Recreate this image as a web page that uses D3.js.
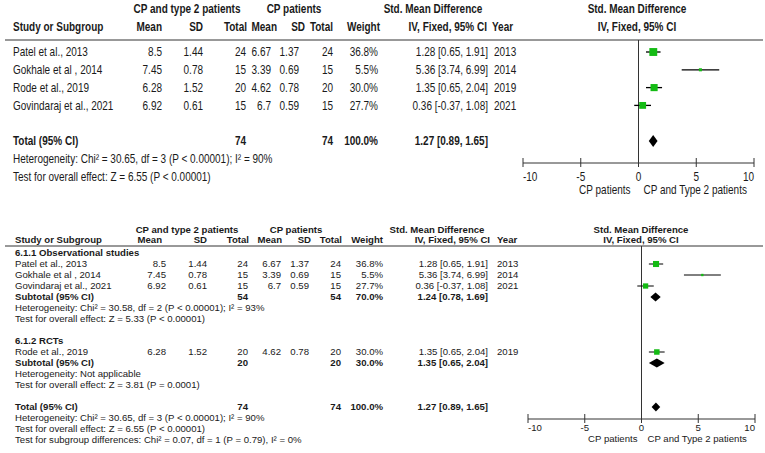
<!DOCTYPE html>
<html>
<head>
<meta charset="utf-8">
<script src="https://cdn.jsdelivr.net/npm/d3@7"></script>
<style>
  body { margin: 0; background: #fff; }
  svg { display: block; }
</style>
</head>
<body>
<svg id="chart" width="765" height="453"></svg>
<script>
// ---- data ----
const studies = ["Patel et al., 2013", "Gokhale et al , 2014", "Rode et al., 2019", "Govindaraj et al., 2021"];
const meanA = ["8.5", "7.45", "6.28", "6.92"];
const sdA = ["1.44", "0.78", "1.52", "0.61"];
const nA = [24, 15, 20, 15];
const meanB = ["6.67", "3.39", "4.62", "6.7"];
const sdB = ["1.37", "0.69", "0.78", "0.59"];
const nB = [24, 15, 20, 15];
const weight = [36.8, 5.5, 30.0, 27.7];
const smd = [1.28, 5.36, 1.35, 0.36];
const ciLow = [0.65, 3.74, 0.65, -0.37];
const ciHigh = [1.91, 6.99, 2.04, 1.08];
const years = [2013, 2014, 2019, 2021];

const groupNames = ["6.1.1 Observational studies", "6.1.2 RCTs"];
const groupMembers = [[0, 1, 3], [2]];
const subN = [54, 20];
const subWeight = [70.0, 30.0];
const subSmd = [1.24, 1.35];
const subLow = [0.78, 0.65];
const subHigh = [1.69, 2.04];
const subHet = ["Heterogeneity: Chi\u00b2 = 30.58, df = 2 (P < 0.00001); I\u00b2 = 93%", "Heterogeneity: Not applicable"];
const subTest = ["Test for overall effect: Z = 5.33 (P < 0.00001)", "Test for overall effect: Z = 3.81 (P = 0.0001)"];

const totalN = 74;
const totalSmd = 1.27, totalLow = 0.89, totalHigh = 1.65;
const totalHet = "Heterogeneity: Chi\u00b2 = 30.65, df = 3 (P < 0.00001); I\u00b2 = 90%";
const totalTest = "Test for overall effect: Z = 6.55 (P < 0.00001)";
const subgroupTest = "Test for subgroup differences: Chi\u00b2 = 0.07, df = 1 (P = 0.79), I\u00b2 = 0%";
const xTicks = [-10, -5, 0, 5, 10];

const fmtCI = (m, l, h) => `${m.toFixed(2)} [${l.toFixed(2)}, ${h.toFixed(2)}]`;
const fmtW = w => w.toFixed(1) + "%";

const svg = d3.select("#chart");
const ink = "#1a1a1a";
const green = "#14bb14";

// ---- helpers ----
// each panel group carries its own horizontal squeeze (top one mimics a narrow font)
function txt(g, x, y, s, opt = {}) {
  const sx = g.node().__sx || 1;
  return g.append("text")
    .attr("transform", `translate(${x},${y}) scale(${sx},1)`)
    .attr("dy", "0.35em")
    .attr("text-anchor", opt.anchor || "start")
    .attr("font-weight", opt.bold ? "bold" : "normal")
    .attr("fill", ink)
    .text(s);
}

function diamond(g, x, y, m, l, h, half) {
  const pts = [[x(l), y], [x(m), y - half], [x(h), y], [x(m), y + half]];
  g.append("path")
    .attr("d", d3.line()(pts) + "Z")
    .attr("fill", "#000");
}

function studyRow(g, c, x, y, i, sq) {
  txt(g, c.study, y, studies[i]);
  txt(g, c.meanA, y, meanA[i], { anchor: "end" });
  txt(g, c.sdA, y, sdA[i], { anchor: "end" });
  txt(g, c.nA, y, nA[i], { anchor: "end" });
  txt(g, c.meanB, y, meanB[i], { anchor: "end" });
  txt(g, c.sdB, y, sdB[i], { anchor: "end" });
  txt(g, c.nB, y, nB[i], { anchor: "end" });
  txt(g, c.weight, y, fmtW(weight[i]), { anchor: "end" });
  txt(g, c.ci, y, fmtCI(smd[i], ciLow[i], ciHigh[i]), { anchor: "end" });
  txt(g, c.year, y, years[i]);
  g.append("line")
    .attr("x1", x(ciLow[i])).attr("x2", x(ciHigh[i]))
    .attr("y1", y).attr("y2", y)
    .attr("stroke", "#000").attr("stroke-width", c.lw);
  const s = sq * Math.sqrt(weight[i]);
  g.append("rect")
    .attr("x", x(smd[i]) - s / 2).attr("y", y - s / 2)
    .attr("width", s).attr("height", s)
    .attr("fill", green);
}

function headers(g, c, y1, y2) {
  txt(g, c.hA, y1, "CP and type 2 patients", { anchor: "middle", bold: true });
  txt(g, c.hB, y1, "CP patients", { anchor: "middle", bold: true });
  txt(g, c.hSmd, y1, "Std. Mean Difference", { anchor: "middle", bold: true });
  txt(g, c.hPlot, y1, "Std. Mean Difference", { anchor: "middle", bold: true });
  txt(g, c.study, y2, "Study or Subgroup", { bold: true });
  txt(g, c.hMeanA, y2, "Mean", { anchor: "end", bold: true });
  txt(g, c.hSdA, y2, "SD", { anchor: "end", bold: true });
  txt(g, c.hNA, y2, "Total", { anchor: "end", bold: true });
  txt(g, c.hMeanB, y2, "Mean", { anchor: "end", bold: true });
  txt(g, c.hSdB, y2, "SD", { anchor: "end", bold: true });
  txt(g, c.hNB, y2, "Total", { anchor: "end", bold: true });
  txt(g, c.hW, y2, "Weight", { anchor: "end", bold: true });
  txt(g, c.hCI, y2, "IV, Fixed, 95% CI", { anchor: "end", bold: true });
  txt(g, c.hYear, y2, "Year", { bold: true });
  txt(g, c.hPlot, y2, "IV, Fixed, 95% CI", { anchor: "middle", bold: true });
}

function axis(g, c, x, yAxis, yTop, yTick, yLab) {
  g.append("line")
    .attr("x1", x(0)).attr("x2", x(0))
    .attr("y1", yTop).attr("y2", yAxis)
    .attr("stroke", "#333").attr("stroke-width", 1);
  g.append("line")
    .attr("x1", x(-10)).attr("x2", x(10))
    .attr("y1", yAxis).attr("y2", yAxis)
    .attr("stroke", "#333");
  xTicks.forEach((t, k) => {
    g.append("line")
      .attr("x1", x(t)).attr("x2", x(t))
      .attr("y1", yAxis - 5).attr("y2", yAxis + 4)
      .attr("stroke", "#333");
    const anchor = k === 0 ? "start" : (k === xTicks.length - 1 ? "end" : "middle");
    txt(g, x(t), yTick, t, { anchor });
  });
  txt(g, x(0) - c.labL, yLab, "CP patients", { anchor: "end" });
  txt(g, x(0) + c.labR, yLab, "CP and Type 2 patients");
}

// ---- top panel (narrow look) ----
const topG = svg.append("g")
  .attr("font-family", "'Liberation Sans', Arial, sans-serif")
  .attr("font-size", 12.5);
topG.node().__sx = 0.8;

const cTop = {
  study: 13, meanA: 162, sdA: 203, nA: 246, meanB: 271, sdB: 299, nB: 333, weight: 378, ci: 488, year: 494,
  hA: 187, hB: 294, hSmd: 433, hPlot: 637,
  hMeanA: 162, hSdA: 203, hNA: 247, hMeanB: 277, hSdB: 305, hNB: 333, hW: 380, hCI: 487, hYear: 492,
  lw: 1.3, labL: 8, labR: 5
};
const xTop = d3.scaleLinear().domain([-10, 10]).range([523, 754]);
const rowTop = d3.scaleLinear().domain([0, 1]).range([52, 69.8]);

headers(topG, cTop, 9, 27);
topG.append("line").attr("x1", 5).attr("x2", 763).attr("y1", 40).attr("y2", 40).attr("stroke", "#333");
axis(topG, cTop, xTop, 163, 40, 177, 190);

[0, 1, 2, 3].forEach((i, r) => studyRow(topG, cTop, xTop, rowTop(r), i, 1.3));
const yT = rowTop(5);
txt(topG, cTop.study, yT, "Total (95% CI)", { bold: true });
txt(topG, cTop.nA, yT, totalN, { anchor: "end", bold: true });
txt(topG, cTop.nB, yT, totalN, { anchor: "end", bold: true });
txt(topG, cTop.weight, yT, fmtW(100), { anchor: "end", bold: true });
txt(topG, cTop.ci, yT, fmtCI(totalSmd, totalLow, totalHigh), { anchor: "end", bold: true });
diamond(topG, xTop, yT, totalSmd, totalLow, totalHigh, 6);
txt(topG, cTop.study, rowTop(6), totalHet);
txt(topG, cTop.study, rowTop(7), totalTest);

// ---- bottom panel (subgroups) ----
const botG = svg.append("g")
  .attr("font-family", "'Liberation Sans', Arial, sans-serif")
  .attr("font-size", 9.6);

const cBot = {
  study: 15, meanA: 166, sdA: 207, nA: 248, meanB: 281, sdB: 309, nB: 341, weight: 383, ci: 488, year: 497,
  hA: 187, hB: 296, hSmd: 437, hPlot: 641,
  hMeanA: 162, hSdA: 207, hNA: 249, hMeanB: 282, hSdB: 311, hNB: 342, hW: 383, hCI: 490, hYear: 497,
  lw: 1, labL: 4, labR: 6
};
const xBot = d3.scaleLinear().domain([-10, 10]).range([528, 755]);
const rowBot = d3.scaleLinear().domain([0, 1]).range([253, 264]);

headers(botG, cBot, 230, 240);
botG.append("line").attr("x1", 5).attr("x2", 763).attr("y1", 246).attr("y2", 246).attr("stroke", "#333");
axis(botG, cBot, xBot, 419, 246, 428, 439);

let r = 0;
groupNames.forEach((name, gi) => {
  txt(botG, cBot.study, rowBot(r++), name, { bold: true });
  groupMembers[gi].forEach(i => studyRow(botG, cBot, xBot, rowBot(r++), i, 1.0));
  const y = rowBot(r++);
  txt(botG, cBot.study, y, "Subtotal (95% CI)", { bold: true });
  txt(botG, cBot.nA, y, subN[gi], { anchor: "end", bold: true });
  txt(botG, cBot.nB, y, subN[gi], { anchor: "end", bold: true });
  txt(botG, cBot.weight, y, fmtW(subWeight[gi]), { anchor: "end", bold: true });
  txt(botG, cBot.ci, y, fmtCI(subSmd[gi], subLow[gi], subHigh[gi]), { anchor: "end", bold: true });
  diamond(botG, xBot, y, subSmd[gi], subLow[gi], subHigh[gi], 4.5);
  txt(botG, cBot.study, rowBot(r++), subHet[gi]);
  txt(botG, cBot.study, rowBot(r++), subTest[gi]);
  r++; // blank row
});

const yB = rowBot(r++);
txt(botG, cBot.study, yB, "Total (95% CI)", { bold: true });
txt(botG, cBot.nA, yB, totalN, { anchor: "end", bold: true });
txt(botG, cBot.nB, yB, totalN, { anchor: "end", bold: true });
txt(botG, cBot.weight, yB, fmtW(100), { anchor: "end", bold: true });
txt(botG, cBot.ci, yB, fmtCI(totalSmd, totalLow, totalHigh), { anchor: "end", bold: true });
diamond(botG, xBot, yB, totalSmd, totalLow, totalHigh, 4.5);
txt(botG, cBot.study, rowBot(r++), totalHet);
txt(botG, cBot.study, rowBot(r++), totalTest);
txt(botG, cBot.study, rowBot(r++), subgroupTest);
</script>
</body>
</html>
